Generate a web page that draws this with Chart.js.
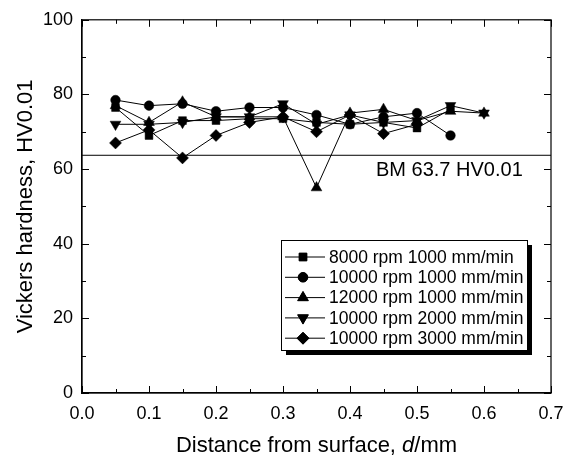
<!DOCTYPE html>
<html>
<head>
<meta charset="utf-8">
<script src="https://cdn.jsdelivr.net/npm/chart.js@4"></script>
<style>
html,body{margin:0;padding:0;background:#fff;}
#wrap{width:576px;height:461px;}
</style>
</head>
<body>
<div id="wrap"><canvas id="c" width="576" height="461"></canvas></div>
<script>
// ---- data ----
const depths = [0.05,0.10,0.15,0.20,0.25,0.30,0.35,0.40,0.45,0.50,0.55,0.60];
const seriesLabels = ["8000 rpm 1000 mm/min","10000 rpm 1000 mm/min","12000 rpm 1000 mm/min","10000 rpm 2000 mm/min","10000 rpm 3000 mm/min"];
const hv8000_1000  = [76.5,69.0,73.0,73.0,73.5,73.5,72.5,72.0,72.5,71.0,76.0];
const hv10000_1000 = [78.5,77.0,77.5,75.5,76.5,76.5,74.5,72.0,74.0,75.0,69.0];
const hv12000_1000 = [77.0,72.5,78.0,74.0,74.0,74.0,55.0,75.0,76.0,73.0,75.5,75.0];
const hv10000_2000 = [72.0,72.0,72.5,74.0,74.0,77.5,72.0,74.5,72.5,73.0,77.0,75.0];
const hv10000_3000 = [67.0,70.5,63.0,69.0,72.5,74.0,70.0,74.5,69.5,72.0];
const bmValue = 63.7;
const bmLabel = "BM 63.7 HV0.01";
const xTicks = [0,0.1,0.2,0.3,0.4,0.5,0.6,0.7];
const yTicks = [0,20,40,60,80,100];

const FONT = "'Liberation Sans', Arial, Helvetica, sans-serif";
const styles = [
  {pointStyle:'rect', rotation:0, radius:5.5},
  {pointStyle:'circle', rotation:0, radius:4.8},
  {pointStyle:'triangle', rotation:0, radius:6.2},
  {pointStyle:'triangle', rotation:180, radius:6.2},
  {pointStyle:'rectRot', rotation:0, radius:6}
];
const allSeries = [hv8000_1000,hv10000_1000,hv12000_1000,hv10000_2000,hv10000_3000];

const datasets = allSeries.map((vals,i)=>({
  label: seriesLabels[i],
  data: vals.map((v,j)=>({x:depths[j], y:v})),
  borderColor:'#000', borderWidth:1,
  backgroundColor:'#000',
  pointBackgroundColor:'#000', pointBorderColor:'#000', pointBorderWidth:0.5,
  pointStyle: styles[i].pointStyle, pointRotation: styles[i].rotation,
  pointRadius: styles[i].radius, pointHoverRadius: styles[i].radius,
  tension:0, fill:false
}));
datasets.unshift({
  label:'BM', data:[{x:0,y:bmValue},{x:0.7,y:bmValue}],
  borderColor:'#000', borderWidth:1, pointRadius:0, fill:false, tension:0
});

const decor = {
  id:'decor',
  afterDraw(chart){
    const ctx = chart.ctx;
    const xs = chart.scales.x, ys = chart.scales.y;
    const L = chart.chartArea.left, R = chart.chartArea.right, T = chart.chartArea.top, B = chart.chartArea.bottom;
    ctx.save();
    ctx.strokeStyle = '#000'; ctx.lineWidth = 1.2;
    ctx.strokeRect(L, T, R-L, B-T);
    ctx.lineWidth = 1;
    // inside ticks
    ctx.beginPath();
    for (let k=0;k<=14;k++){
      const v = k*0.05; const px = Math.round(xs.getPixelForValue(v))+0.5;
      const len = (k%2===0)?7:4;
      ctx.moveTo(px,B); ctx.lineTo(px,B-len);
      ctx.moveTo(px,T); ctx.lineTo(px,T+len);
    }
    for (let k=0;k<=10;k++){
      const v = k*10; const py = Math.round(ys.getPixelForValue(v))+0.5;
      const len = (k%2===0)?7:4;
      ctx.moveTo(L,py); ctx.lineTo(L+len,py);
      ctx.moveTo(R,py); ctx.lineTo(R-len,py);
    }
    ctx.stroke();

    // BM text
    ctx.fillStyle = '#000';
    ctx.font = "20px " + FONT;
    ctx.textBaseline = 'middle'; ctx.textAlign = 'left';
    ctx.fillText(bmLabel, 376, 170);

    // axis titles
    ctx.font = "22px " + FONT;
    ctx.textBaseline = 'alphabetic';
    const p1 = "Distance from surface, ", p2 = "d", p3 = "/mm";
    const w1 = ctx.measureText(p1).width;
    ctx.font = "italic 22px " + FONT;
    const w2 = ctx.measureText(p2).width;
    ctx.font = "22px " + FONT;
    const w3 = ctx.measureText(p3).width;
    let sx = (L+R)/2 - (w1+w2+w3)/2;
    ctx.fillText(p1, sx, 452);
    ctx.font = "italic 22px " + FONT;
    ctx.fillText(p2, sx+w1, 452);
    ctx.font = "22px " + FONT;
    ctx.fillText(p3, sx+w1+w2, 452);

    ctx.save();
    ctx.translate(32, (T+B)/2);
    ctx.rotate(-Math.PI/2);
    ctx.textAlign = 'center';
    ctx.fillText("Vickers hardness, HV0.01", 0, 0);
    ctx.restore();

    // legend box
    const bx=281, by=240, bw=246, bh=110;
    ctx.fillStyle='#000';
    ctx.fillRect(bx+bw, by+5, 5, bh);
    ctx.fillRect(bx+5, by+bh, bw, 5);
    ctx.fillStyle='#fff';
    ctx.fillRect(bx, by, bw, bh);
    ctx.strokeStyle='#000'; ctx.lineWidth=1;
    ctx.strokeRect(bx+0.5, by+0.5, bw, bh);
    ctx.font = "17.5px " + FONT;
    ctx.textBaseline='middle'; ctx.textAlign='left';
    for (let i=0;i<seriesLabels.length;i++){
      const y = 257 + i*20.3;
      ctx.beginPath(); ctx.moveTo(285,y); ctx.lineTo(325,y); ctx.stroke();
      ctx.fillStyle='#000';
      Chart.helpers.drawPoint(ctx, {pointStyle:styles[i].pointStyle, rotation:styles[i].rotation, radius:styles[i].radius, borderWidth:0.5}, 303, y);
      ctx.fill();
      ctx.fillText(seriesLabels[i], 329, y+1);
    }
    ctx.restore();
  }
};

new Chart(document.getElementById('c'), {
  type:'line',
  data:{datasets},
  options:{
    responsive:false, animation:false,
    layout:{padding:{top:15,right:25,left:0,bottom:0}},
    plugins:{legend:{display:false}, tooltip:{enabled:false}},
    scales:{
      x:{type:'linear', min:0, max:0.7,
        afterFit(s){s.height=68;},
        afterBuildTicks(s){s.ticks = xTicks.map(v=>({value:v}));},
        grid:{display:false, drawTicks:false},
        border:{display:true,color:'#000',width:1.2},
        ticks:{color:'#000', padding:10, font:{size:18, family:FONT}, maxRotation:0,
          callback:(v)=>Number(v).toFixed(1)}
      },
      y:{min:0, max:100,
        afterFit(s){s.width=82;},
        afterBuildTicks(s){s.ticks = yTicks.map(v=>({value:v}));},
        grid:{display:false, drawTicks:false},
        border:{display:true,color:'#000',width:1.2},
        ticks:{color:'#000', padding:9, font:{size:18, family:FONT},
          callback:(v)=>String(v)}
      }
    }
  },
  plugins:[decor]
});
</script>
</body>
</html>
